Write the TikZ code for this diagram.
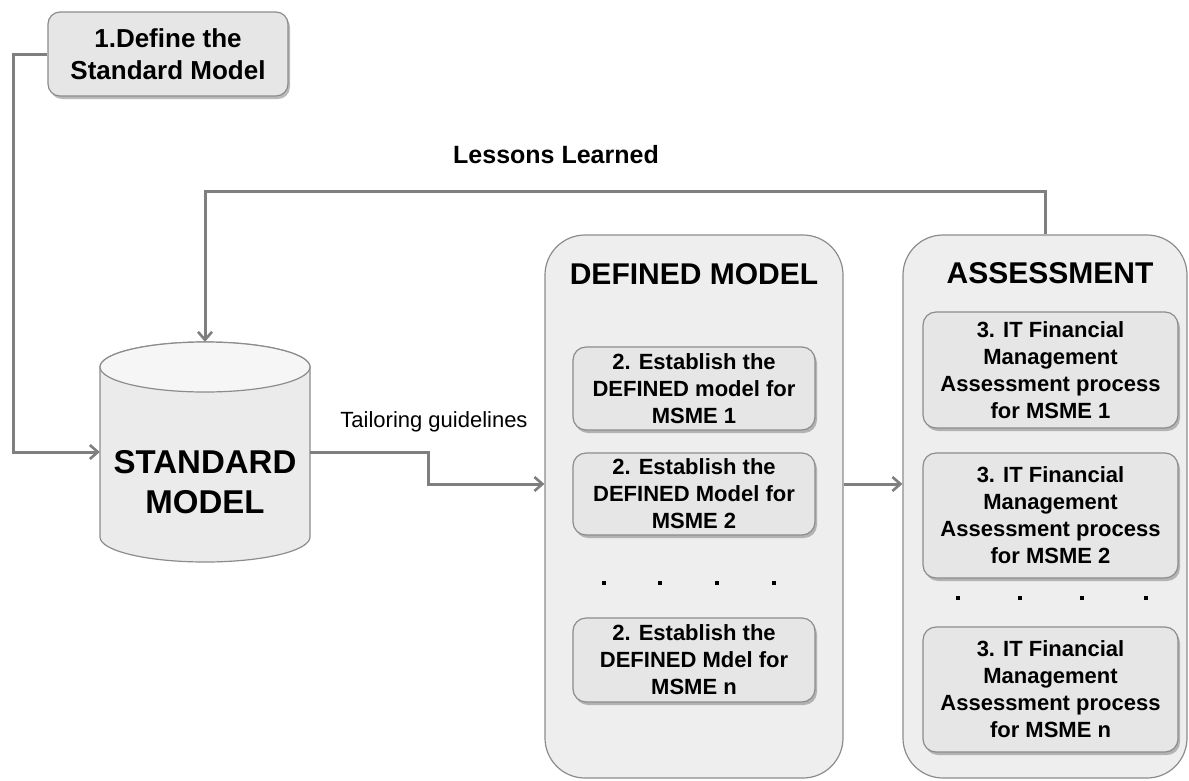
\documentclass[tikz,border=0pt]{standalone}
\usepackage{fontspec}
\setmainfont{Liberation Sans}
\usetikzlibrary{arrows.meta,shadows,calc}

\definecolor{linegray}{HTML}{7F7F7F}
\definecolor{edgegray}{HTML}{8C8C8C}
\definecolor{boxfill}{HTML}{E6E6E6}
\definecolor{panelfill}{HTML}{EEEEEE}

\tikzset{
  flow/.style={draw=linegray, line width=3pt, -{Straight Barb[length=8pt,width=14pt,line width=2.6pt]}},
  stepbox/.style={draw=edgegray, line width=1.2pt, fill=boxfill, rounded corners=13pt,
    align=center, inner sep=0pt, font=\bfseries\fontsize{22}{27}\selectfont,
    drop shadow={shadow xshift=2pt, shadow yshift=-3pt, fill=black!45, opacity=0.6}},
  topbox/.style={stepbox, rounded corners=12pt, font=\bfseries\fontsize{26}{32}\selectfont},
  panel/.style={draw=edgegray, line width=1.2pt, fill=panelfill, rounded corners=40pt, inner sep=0pt},
  paneltitle/.style={font=\bfseries\fontsize{30}{36}\selectfont},
  dot/.style={fill=black, rectangle, inner sep=0pt, minimum size=4.5pt},
}

\begin{document}
\begin{tikzpicture}[x=1pt, y=-1pt]
  \useasboundingbox (0,0) rectangle (1189,780);

  % step 1 box
  \node[topbox, minimum width=240pt, minimum height=84pt] (def1) at (168,54)
    {1.Define the\\Standard Model};

  % standard model store (cylinder)
  \filldraw[draw=edgegray, line width=1.2pt, fill=boxfill!80!white]
    (100,367) -- (100,537) arc[start angle=180, end angle=0, x radius=105, y radius=25]
    -- (310,367) arc[start angle=0, end angle=-180, x radius=105, y radius=25] -- cycle;
  \draw[draw=edgegray, line width=1.2pt, fill=panelfill!50!white]
    (205,367) ellipse [x radius=105, y radius=25];
  \node[minimum width=210pt, minimum height=220pt, inner sep=0pt] (store) at (205,452) {};
  \node[align=center, font=\bfseries\fontsize{33}{40}\selectfont] (storelabel) at (205,482)
    {STANDARD\\MODEL};

  % panels
  \node[panel, minimum width=298pt, minimum height=543pt] (defined) at (694,506.5) {};
  \node[panel, minimum width=284pt, minimum height=543pt] (assess) at (1045,506.5) {};
  \node[paneltitle] (deftitle) at (694,274) {DEFINED MODEL};
  \node[paneltitle] (asstitle) at (1050,273) {ASSESSMENT};

  % defined model steps
  \node[stepbox, minimum width=242pt, minimum height=83pt] (d1) at (694,388.5)
    {2. Establish the\\DEFINED model for\\MSME 1};
  \node[stepbox, minimum width=242pt, minimum height=82pt] (d2) at (694,494)
    {2. Establish the\\DEFINED Model for\\MSME 2};
  \node[stepbox, minimum width=242pt, minimum height=84pt] (dn) at (694,660)
    {2. Establish the\\DEFINED Mdel for\\MSME n};
  \foreach \x [count=\i] in {604,660,717,774}
    \node[dot] (ddot\i) at (\x,583) {};

  % assessment steps
  \node[stepbox, minimum width=255pt, minimum height=116pt] (a1) at (1050.5,370)
    {3. IT Financial\\Management\\Assessment process\\for MSME 1};
  \node[stepbox, minimum width=255pt, minimum height=125pt] (a2) at (1050.5,515.5)
    {3. IT Financial\\Management\\Assessment process\\for MSME 2};
  \node[stepbox, minimum width=255pt, minimum height=125pt] (an) at (1050.5,689.5)
    {3. IT Financial\\Management\\Assessment process\\for MSME n};
  \foreach \x [count=\i] in {958,1020,1082,1146}
    \node[dot] (adot\i) at (\x,598) {};

  % connectors
  \coordinate (bend) at (428,484);
  \draw[flow] (def1.west) -- ++(-34,0) |- (store.west);
  \draw[flow] (store.east) -| (bend) -- (bend -| defined.west);
  \draw[flow] (defined.east |- bend) -- (assess.west |- bend);
  \draw[flow] (assess.north) -- ++(0,-43) -| (store.north);

  % connector labels
  \node[font=\bfseries\fontsize{25}{30}\selectfont] (lessons) at (556,155) {Lessons Learned};
  \node[font=\fontsize{22}{26}\selectfont] (tailor) at (434,422) {Tailoring guidelines};
\end{tikzpicture}
\end{document}
